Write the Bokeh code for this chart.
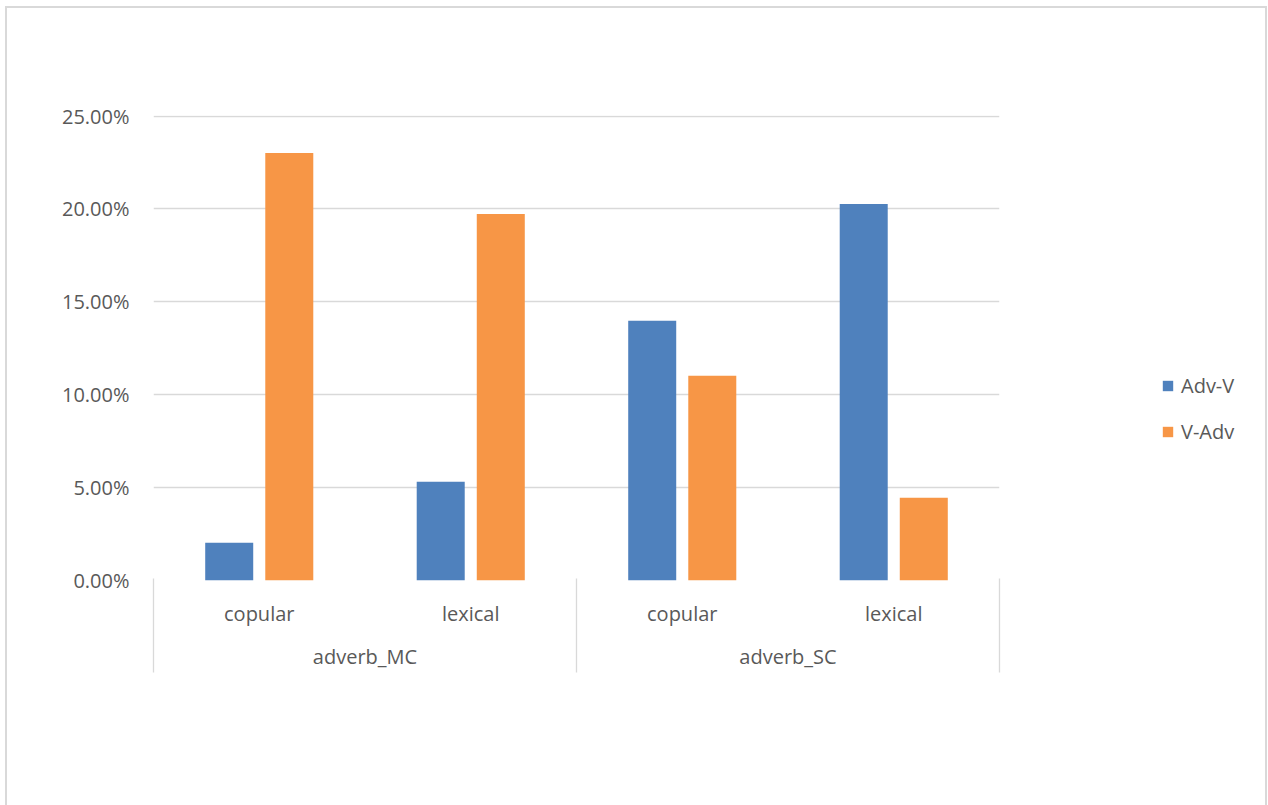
from bokeh.plotting import figure
from bokeh.layouts import row
from bokeh.models import (ColumnDataSource, FactorRange, Range1d, NumeralTickFormatter,
                          Legend, LegendItem, CategoricalAxis, LinearAxis, FixedTicker)
from bokeh.transform import dodge
from bokeh.embed import file_html
from bokeh.resources import INLINE

groups = ["adverb_MC", "adverb_MC", "adverb_SC", "adverb_SC"]
verbs = ["copular", "lexical", "copular", "lexical"]
series_names = ["Adv-V", "V-Adv"]
adv_v = [0.0203, 0.0532, 0.1398, 0.2027]
v_adv = [0.2301, 0.1973, 0.1102, 0.0446]
y_ticks = [0.0, 0.05, 0.10, 0.15, 0.20, 0.25]
group_bounds = [0, 2, 4]

FONT = "Open Sans"
FS = "20px"
TXT = "#595959"
GRID = "#d9d9d9"
BLUE = "#4f81bd"
ORANGE = "#f79646"

factors = list(zip(groups, verbs))
x_range = FactorRange(*factors, range_padding=0, factor_padding=0,
                      subgroup_padding=0, group_padding=0)

src = ColumnDataSource(dict(x=factors, adv_v=adv_v, v_adv=v_adv))

# ---------------- main chart ----------------
p = figure(width=1000, height=797, x_range=x_range, y_range=Range1d(0, 0.2503),
           output_backend="svg", toolbar_location=None,
           x_axis_location=None, y_axis_location=None,
           min_border_left=146, min_border_right=8,
           min_border_top=107, min_border_bottom=225)
p.outline_line_color = None
p.background_fill_color = "white"
p.border_fill_color = "white"

yax = LinearAxis(ticker=FixedTicker(ticks=y_ticks),
                 formatter=NumeralTickFormatter(format="0.00%"))
yax.axis_line_color = None
yax.major_tick_line_color = None
yax.minor_tick_line_color = None
yax.major_label_text_font = FONT
yax.major_label_text_font_size = FS
yax.major_label_text_color = TXT
yax.major_label_standoff = 18
p.add_layout(yax, "left")

xax = CategoricalAxis()
xax.axis_line_color = None
xax.major_tick_line_color = None
xax.minor_tick_line_color = None
xax.separator_line_color = None
xax.major_label_text_font = FONT
xax.major_label_text_font_size = FS
xax.major_label_text_color = TXT
xax.major_label_standoff = 13
xax.group_text_font = FONT
xax.group_text_font_size = FS
xax.group_text_font_style = "normal"
xax.group_text_color = TXT
p.add_layout(xax, "below")

# category box lines: inward ticks on group boundaries, reaching back up to the frame
bax = LinearAxis(ticker=FixedTicker(ticks=[], minor_ticks=group_bounds))
bax.axis_line_color = None
bax.major_tick_line_color = None
bax.major_tick_out = 0
bax.major_label_text_font_size = "0px"
bax.minor_tick_in = 94
bax.minor_tick_out = 0
bax.minor_tick_line_color = GRID
bax.minor_tick_line_width = 1.3
p.add_layout(bax, "below")

p.ygrid.ticker = yax.ticker
p.ygrid.grid_line_color = GRID
p.ygrid.grid_line_width = 1.3
p.xgrid.grid_line_color = None

bw = 0.227
off = 0.142
p.vbar(x=dodge("x", -off, range=x_range), top="adv_v", width=bw, source=src,
       fill_color=BLUE, line_color=None)
p.vbar(x=dodge("x", off, range=x_range), top="v_adv", width=bw, source=src,
       fill_color=ORANGE, line_color=None)

# ---------------- legend panel (its frame aligns with the main frame) ----------------
p2 = figure(width=258, height=797, x_range=x_range, y_range=Range1d(5, 6),
            output_backend="svg", toolbar_location=None,
            x_axis_location=None, y_axis_location=None,
            min_border_left=0, min_border_right=0, min_border_top=0, min_border_bottom=0)
p2.outline_line_color = None
p2.grid.grid_line_color = None
p2.background_fill_color = "white"
p2.border_fill_color = "white"
# same series, hidden: used only as legend keys
k1 = p2.vbar(x="x", top="adv_v", width=bw, source=src, fill_color=BLUE, line_color=None)
k2 = p2.vbar(x="x", top="v_adv", width=bw, source=src, fill_color=ORANGE, line_color=None)
k1.visible = False
k2.visible = False

legend = Legend(items=[LegendItem(label=series_names[0], renderers=[k1], index=0),
                       LegendItem(label=series_names[1], renderers=[k2], index=0)],
                location=(154, 135), orientation="vertical")
legend.click_policy = "none"
legend.border_line_color = None
legend.background_fill_alpha = 0
legend.inactive_fill_alpha = 0
legend.padding = 0
legend.margin = 0
legend.glyph_width = 13
legend.glyph_height = 13
legend.label_height = 26
legend.spacing = 19
legend.label_standoff = 7
legend.label_text_font = FONT
legend.label_text_font_size = FS
legend.label_text_color = TXT
p2.add_layout(legend, "center")

page = row(p, p2, spacing=0)
page.styles = {"margin-left": "7px", "margin-top": "8px",
               "outline": "2px solid #d9d9d9"}

open("out.html", "w").write(file_html(page, INLINE))
